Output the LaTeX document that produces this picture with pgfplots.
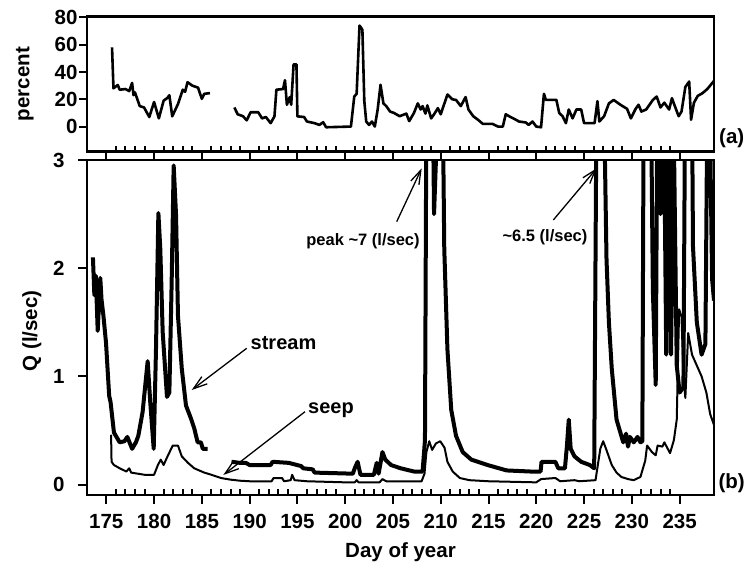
\documentclass[border=0pt]{standalone}
\usepackage{fontspec}
\setmainfont{Liberation Sans}
\usepackage{pgfplots}
\pgfplotsset{compat=1.18}
\usetikzlibrary{arrows.meta}

\pgfplotstableread{
x y
175.6 58
175.75 28
176.2 30.5
176.4 27
177.0 27.5
177.4 26
177.7 32
177.85 23
178.0 25
178.5 15
178.95 14
179.5 7
180.0 18
180.5 6
181.0 19
181.4 21
181.6 23
181.9 7.5
182.5 16.5
183.0 27
183.25 25.5
183.5 32.5
184.0 30
184.6 28.5
185.0 20.3
185.25 24
185.85 24.5
}\pctA

\pgfplotstableread{
x y
188.4 14
188.75 9
189.3 7.6
189.7 4.6
190.1 10.5
190.9 10.5
191.3 6
191.7 7
192.2 2.5
192.6 7.5
192.8 27
193.5 27.5
193.7 34
193.9 16
194.2 21.6
194.35 16
194.6 45.6
194.9 45.6
195.0 7.5
195.7 7
196.0 3.7
196.8 2.5
197.3 1.2
197.7 3.2
198.0 -0.5
200.6 0
200.95 22
201.2 24
201.5 74
201.8 71
202.0 19
202.2 3.7
202.5 1.2
202.8 3.7
203.1 0
203.4 12.5
203.7 30.6
204.0 17
204.3 15
204.7 11
205.1 10
205.7 7.6
206.4 9.5
206.7 4
207.2 10
207.6 17
207.9 12.5
208.1 15
208.4 9.5
208.6 15.5
209.0 6
209.35 9.5
209.7 13.5
210.0 9
210.7 23.5
211.2 20
211.6 19.5
212.1 15
212.6 21.6
212.9 12.5
213.4 7.6
213.9 5
214.4 2
215.4 2
216.0 0
216.5 0
216.8 9
217.3 7
217.6 6
218.2 3.7
218.9 3
219.2 1.2
219.6 3.7
220.0 0
220.5 -0.5
220.8 24
221.0 19.6
222.1 19.6
222.4 10
222.75 7.6
223.1 2.5
223.4 12.5
223.8 6
224.2 12.5
224.7 12.5
225.0 2.5
226.1 2.5
226.4 18.6
226.6 3.7
227.1 7.6
227.6 17
228.1 19.5
228.8 16
229.5 13
229.9 6
230.4 13
230.7 16
231.0 11
231.5 12.5
232.2 19.5
232.6 22
233.0 14
233.4 17.5
233.9 12.5
234.2 20.8
234.5 15
234.9 7.6
235.2 11
235.6 29
236.0 33
236.2 5
236.5 17.5
236.9 22.5
237.4 24.5
237.9 27.5
238.6 33.5
}\pctB

\pgfplotstableread{
x y
173.6 2.10
173.75 1.75
173.9 1.93
174.1 1.42
174.37 1.91
174.5 1.71
174.7 1.56
174.97 1.31
175.3 0.82
175.45 0.76
175.8 0.48
176.4 0.39
176.9 0.40
177.2 0.44
177.7 0.33
178.1 0.39
178.35 0.45
178.8 0.67
179.33 1.14
179.6 0.76
179.96 0.33
180.2 1.25
180.45 2.51
180.65 2.18
180.9 1.41
181.35 0.81
181.6 0.85
181.84 1.87
182.05 2.95
182.3 2.49
182.5 1.56
182.9 1.07
183.34 0.73
183.86 0.61
184.2 0.52
184.56 0.39
184.9 0.39
185.1 0.33
185.6 0.33
}\streamA

\pgfplotstableread{
x y
188.1 0.21
189.0 0.20
189.6 0.20
190.0 0.18
192.2 0.18
192.4 0.21
194.1 0.20
195.4 0.17
195.6 0.15
196.6 0.14
196.8 0.11
200.8 0.10
201.0 0.15
201.3 0.21
201.6 0.09
203.0 0.09
203.3 0.20
203.5 0.10
203.9 0.30
204.2 0.23
204.8 0.18
205.8 0.15
207.2 0.12
208.1 0.12
208.35 0.41
208.5 3.5
208.7 7.0
209.0 5.0
209.3 2.5
209.5 3.0
209.7 5.0
210.0 6.0
210.25 3.2
210.37 2.18
210.7 1.25
211.1 0.69
211.6 0.45
212.3 0.30
213.2 0.23
214.9 0.18
216.9 0.13
219.4 0.12
220.45 0.12
220.55 0.21
222.0 0.21
222.3 0.15
223.0 0.15
223.2 0.35
223.4 0.60
223.6 0.33
224.0 0.26
224.7 0.21
225.6 0.18
226.06 0.15
226.3 3.5
226.5 6.5
226.9 6.0
227.15 3.2
227.35 2.08
227.6 1.5
227.9 1.07
228.4 0.60
228.9 0.45
229.1 0.39
229.4 0.47
229.6 0.35
229.8 0.44
230.2 0.39
230.6 0.44
230.9 0.39
231.1 0.40
231.3 5.0
231.6 3.5
231.9 4.5
232.2 1.8
232.5 0.92
232.7 4.0
233.0 2.5
233.3 4.0
233.6 1.2
233.9 3.5
234.1 1.2
234.4 3.2
234.7 1.1
235.0 0.85
235.4 0.9
235.6 4.0
236.0 5.0
236.3 3.5
236.4 2.2
236.8 1.5
237.3 1.2
237.7 1.3
237.9 3.5
238.2 3.2
238.4 1.9
238.6 1.7
}\streamB

\pgfplotstableread{
x y
175.5 0.46
175.55 0.21
175.8 0.18
176.4 0.15
177.1 0.12
177.4 0.15
177.6 0.11
179.0 0.09
180.0 0.09
180.4 0.18
180.7 0.23
181.0 0.18
181.3 0.24
181.95 0.36
182.5 0.36
182.9 0.26
183.55 0.20
184.2 0.15
185.25 0.11
186.0 0.09
187.0 0.06
188.0 0.045
189.0 0.035
190.0 0.03
192.3 0.03
192.5 0.06
193.4 0.06
193.6 0.03
194.3 0.04
194.45 0.09
194.7 0.04
196.0 0.03
200.0 0.02
201.0 0.02
201.2 0.04
201.4 0.02
203.6 0.02
203.9 0.05
204.3 0.03
208.0 0.03
208.3 0.10
208.5 0.30
208.8 0.40
209.1 0.32
209.5 0.38
209.95 0.40
210.4 0.34
210.7 0.21
211.25 0.12
212.0 0.06
213.0 0.04
215.0 0.03
220.0 0.02
220.5 0.05
222.0 0.06
222.5 0.03
224.0 0.04
224.5 0.03
226.2 0.04
226.7 0.33
227.0 0.40
227.3 0.33
227.9 0.18
228.4 0.11
228.9 0.07
229.6 0.05
230.2 0.04
230.9 0.07
231.4 0.22
231.6 0.36
232.1 0.30
232.5 0.27
232.7 0.36
233.2 0.35
233.4 0.39
234.0 0.29
234.4 0.41
234.7 0.6
234.95 1.62
235.2 1.55
235.4 1.0
235.6 0.8
235.9 1.4
236.3 1.2
236.8 1.1
237.3 1.0
237.8 0.85
238.2 0.65
238.6 0.55
}\seep

\newcommand{\tkfont}{\fontsize{20.5}{20.5}\selectfont\bfseries}
\newcommand{\lbfont}{\fontsize{20.5}{20.5}\selectfont\bfseries}
\newcommand{\anfont}{\fontsize{20}{20}\selectfont\bfseries}
\newcommand{\pkfont}{\fontsize{16.5}{16.5}\selectfont\bfseries}

\pgfplotsset{
  common/.style={
    scale only axis,
    width=627pt,
    xmin=172.98, xmax=238.6,
    axis line style={line width=2.8pt},
    tick style={line width=2pt, black},
    tick align=outside,
    xtick={175,180,...,235},
    minor x tick num=4,
    xtick pos=bottom,
    ytick pos=left,
    minor x tick style={yshift=5.5pt},
    minor tick length=5.5pt,
    tick label style={font=\tkfont},
    /pgf/number format/assume math mode=true,
    clip=true,
  }
}

\begin{document}
\begin{tikzpicture}[x=1pt,y=1pt]
\useasboundingbox (0,0) rectangle (744,567);

\begin{axis}[common,
  at={(87pt,415.3pt)}, anchor=south west,
  height=135pt,
  ymin=-18.4, ymax=80.5,
  ytick={0,20,...,80},
  xticklabels={},
  major tick length=8pt,
  yticklabel style={xshift=2pt},
  ylabel={\lbfont percent},
  ylabel style={at={(axis description cs:-0.099,0.5)}, anchor=center, rotate=0},
]
\addplot[black, line width=2.6pt, line join=round] table[x=x,y=y] {\pctA};
\addplot[black, line width=2.6pt, line join=round] table[x=x,y=y] {\pctB};
\end{axis}

\begin{axis}[common,
  at={(87pt,72pt)}, anchor=south west,
  height=335pt,
  ymin=-0.097, ymax=3,
  ytick={0,1,2,3},
  major tick length=9pt,
  yticklabel style={xshift=-10pt},
  xticklabel style={anchor=base, yshift=-24pt},
  ylabel={\lbfont Q (l/sec)},
  ylabel style={at={(axis description cs:-0.088,0.49)}, anchor=center, rotate=0},
  xlabel={\lbfont Day of year},
  xlabel style={at={(axis description cs:0.5,-0.172)}, anchor=center},
]
\addplot[black, line width=2pt, line join=round] table[x=x,y=y] {\seep};
\addplot[black, line width=4pt, line join=round] table[x=x,y=y] {\streamA};
\addplot[black, line width=4pt, line join=round] table[x=x,y=y] {\streamB};
\end{axis}

% annotations
\node[anchor=west, inner sep=0pt] at (250.5,224.3) {\anfont stream};
\node[anchor=west, inner sep=0pt] at (308,157) {\anfont seep};
\node[anchor=center, inner sep=0pt] at (363,325.3) {\pkfont peak \textasciitilde 7 (l/sec)};
\node[anchor=center, inner sep=0pt] at (545,330) {\pkfont \textasciitilde 6.5 (l/sec)};
\node[anchor=center, inner sep=0pt] at (731.7,429) {\lbfont (a)};
\node[anchor=center, inner sep=0pt] at (731.7,83.7) {\lbfont (b)};

\draw[line width=1.3pt, -{Straight Barb[length=14pt, width=9pt, line width=1.3pt]}] (246.7,218.7) -- (191.7,177);
\draw[line width=1.3pt, -{Straight Barb[length=14pt, width=9pt, line width=1.3pt]}] (305,155.3) -- (223.3,92);
\draw[line width=1.3pt, -{Straight Barb[length=14pt, width=9pt, line width=1.3pt]}] (396.7,345.3) -- (421.7,398.7);
\draw[line width=1.3pt, -{Straight Barb[length=14pt, width=9pt, line width=1.3pt]}] (553.3,347) -- (596.7,398.7);
\end{tikzpicture}
\end{document}
